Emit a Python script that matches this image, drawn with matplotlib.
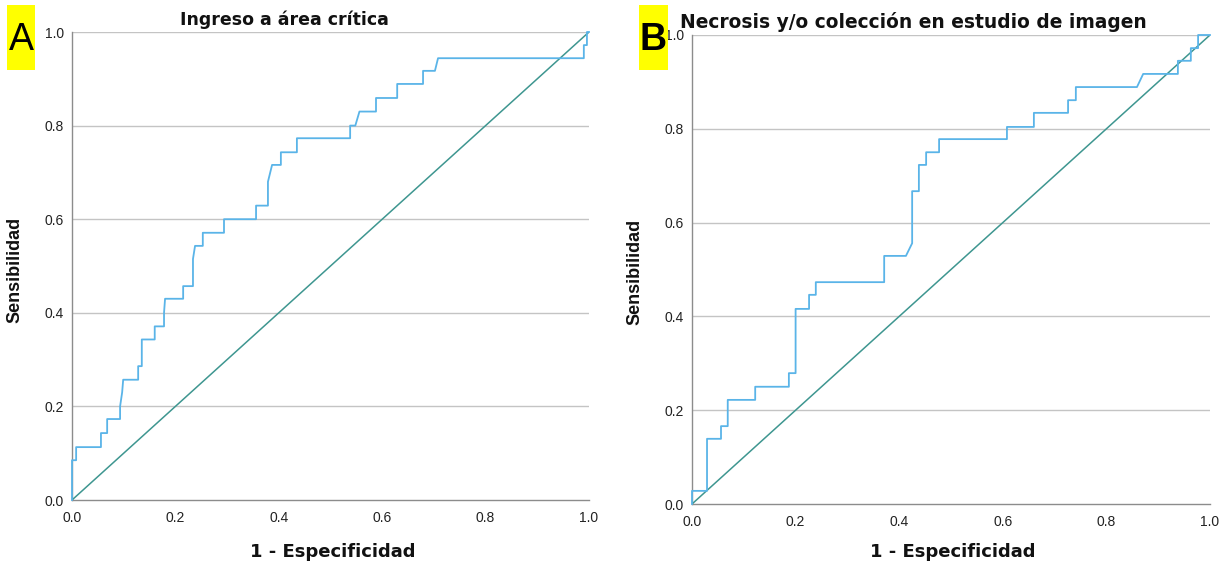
"""
ROC curves for two outcomes (panels A and B), SPSS-like styling.
Output: out.png
"""
import matplotlib
matplotlib.use("Agg")
import matplotlib.pyplot as plt

plt.rcParams["font.family"] = ["Liberation Sans", "DejaVu Sans"]

# ── Panel A: Ingreso a área crítica ──────────────────────────────────────────
fpr_a = [0.0, 0.0, 0.008, 0.008, 0.056, 0.056, 0.068, 0.068, 0.093, 0.093,
         0.097, 0.099, 0.128, 0.128, 0.135, 0.135, 0.160, 0.160, 0.178, 0.178,
         0.180, 0.215, 0.215, 0.234, 0.234, 0.238, 0.253, 0.253, 0.294, 0.294,
         0.356, 0.356, 0.379, 0.379, 0.387, 0.404, 0.404, 0.435, 0.435, 0.538,
         0.538, 0.548, 0.556, 0.588, 0.588, 0.629, 0.629, 0.679, 0.679, 0.702,
         0.708, 0.990, 0.990, 0.996, 0.996, 1.0]
tpr_a = [0.0, 0.085, 0.085, 0.113, 0.113, 0.143, 0.143, 0.173, 0.173, 0.200,
         0.230, 0.257, 0.257, 0.286, 0.286, 0.343, 0.343, 0.371, 0.371, 0.400,
         0.430, 0.430, 0.457, 0.457, 0.515, 0.543, 0.543, 0.571, 0.571, 0.600,
         0.600, 0.629, 0.629, 0.680, 0.716, 0.716, 0.743, 0.743, 0.773, 0.773,
         0.800, 0.800, 0.830, 0.830, 0.859, 0.859, 0.889, 0.889, 0.917, 0.917,
         0.944, 0.944, 0.972, 0.972, 1.0, 1.0]

# ── Panel B: Necrosis y/o colección en estudio de imagen ─────────────────────
fpr_b = [0.0, 0.0, 0.029, 0.029, 0.056, 0.056, 0.069, 0.069, 0.122, 0.122,
         0.187, 0.187, 0.200, 0.200, 0.226, 0.226, 0.239, 0.239, 0.371, 0.371,
         0.413, 0.425, 0.425, 0.438, 0.438, 0.452, 0.452, 0.477, 0.477, 0.608,
         0.608, 0.660, 0.660, 0.726, 0.726, 0.741, 0.741, 0.859, 0.871, 0.938,
         0.938, 0.963, 0.963, 0.977, 0.977, 1.0]
tpr_b = [0.0, 0.028, 0.028, 0.139, 0.139, 0.166, 0.166, 0.222, 0.222, 0.250,
         0.250, 0.279, 0.279, 0.416, 0.416, 0.446, 0.446, 0.473, 0.473, 0.529,
         0.529, 0.556, 0.667, 0.667, 0.723, 0.723, 0.750, 0.750, 0.778, 0.778,
         0.804, 0.804, 0.834, 0.834, 0.861, 0.861, 0.889, 0.889, 0.917, 0.917,
         0.945, 0.945, 0.972, 0.972, 1.0, 1.0]

ref_line = [0.0, 1.0]
ticks = [0.0, 0.2, 0.4, 0.6, 0.8, 1.0]
tick_labels = ["0.0", "0.2", "0.4", "0.6", "0.8", "1.0"]

CURVE = "#5AB4E8"
DIAG = "#3E9690"
GRID = "#C4C4C4"
SPINE = "#8C8C8C"
WIDE = ["DejaVu Sans"]   # the reference's horizontal text is a bit stretched

W, H = 1229, 569
fig = plt.figure(figsize=(W / 100, H / 100), dpi=100)


def px_axes(x0, x1, y_top, y_bot):
    return fig.add_axes([x0 / W, 1 - y_bot / H, (x1 - x0) / W, (y_bot - y_top) / H])


def style(ax, fpr, tpr):
    ax.plot(ref_line, ref_line, color=DIAG, linewidth=1.1, zorder=3)
    ax.plot(fpr, tpr, color=CURVE, linewidth=1.3, zorder=4, clip_on=False)
    ax.set_xlim(0, 1)
    ax.set_ylim(0, 1)
    ax.set_xticks(ticks)
    ax.set_xticklabels(tick_labels)
    ax.set_yticks(ticks)
    ax.set_yticklabels(tick_labels)
    ax.tick_params(length=0, labelsize=10, colors="#222222")
    ax.tick_params(axis="y", pad=6)
    ax.tick_params(axis="x", pad=8)
    for y in ticks[1:]:
        ax.axhline(y, color=GRID, linewidth=1.0, zorder=1)
    for side in ("top", "right"):
        ax.spines[side].set_visible(False)
    for side in ("left", "bottom"):
        ax.spines[side].set_color(SPINE)
        ax.spines[side].set_linewidth(1.0)


ax_a = px_axes(72, 589, 32, 500)
style(ax_a, fpr_a, tpr_a)
ax_b = px_axes(692, 1210, 35, 504)
style(ax_b, fpr_b, tpr_b)

# titles
fig.text(284 / W, 1 - 25 / H, "Ingreso a área crítica", ha="center",
         va="baseline", fontsize=12.5, fontweight="bold", color="#111111",
         family=WIDE)
fig.text(913 / W, 1 - 28 / H, "Necrosis y/o colección en estudio de imagen",
         ha="center", va="baseline", fontsize=13.4, fontweight="bold",
         color="#111111", family=WIDE)

# axis labels
for xc in (333, 953):
    fig.text(xc / W, 1 - 552 / H, "1 - Especificidad", ha="center",
             va="center", fontsize=13, fontweight="bold", color="#111111",
             family=WIDE)
for xc, yc in ((15, 270), (635, 272)):
    fig.text(xc / W, 1 - yc / H, "Sensibilidad", ha="center", va="center",
             rotation=90, fontsize=13, fontweight="bold", color="#111111")

# panel letters on yellow boxes
for x0, x1, letter in ((7, 35, "A"), (639, 668, "B")):
    fig.patches.append(plt.Rectangle((x0 / W, 1 - 70 / H), (x1 - x0) / W, 65 / H,
                                     transform=fig.transFigure,
                                     facecolor="#FFFF00", edgecolor="none",
                                     zorder=10))
    fig.text((x0 + x1) / 2 / W, 1 - 40 / H, letter, ha="center", va="center",
             fontsize=27, fontweight="bold" if letter == "B" else "normal",
             color="black", zorder=11)

fig.savefig("out.png", dpi=100)
